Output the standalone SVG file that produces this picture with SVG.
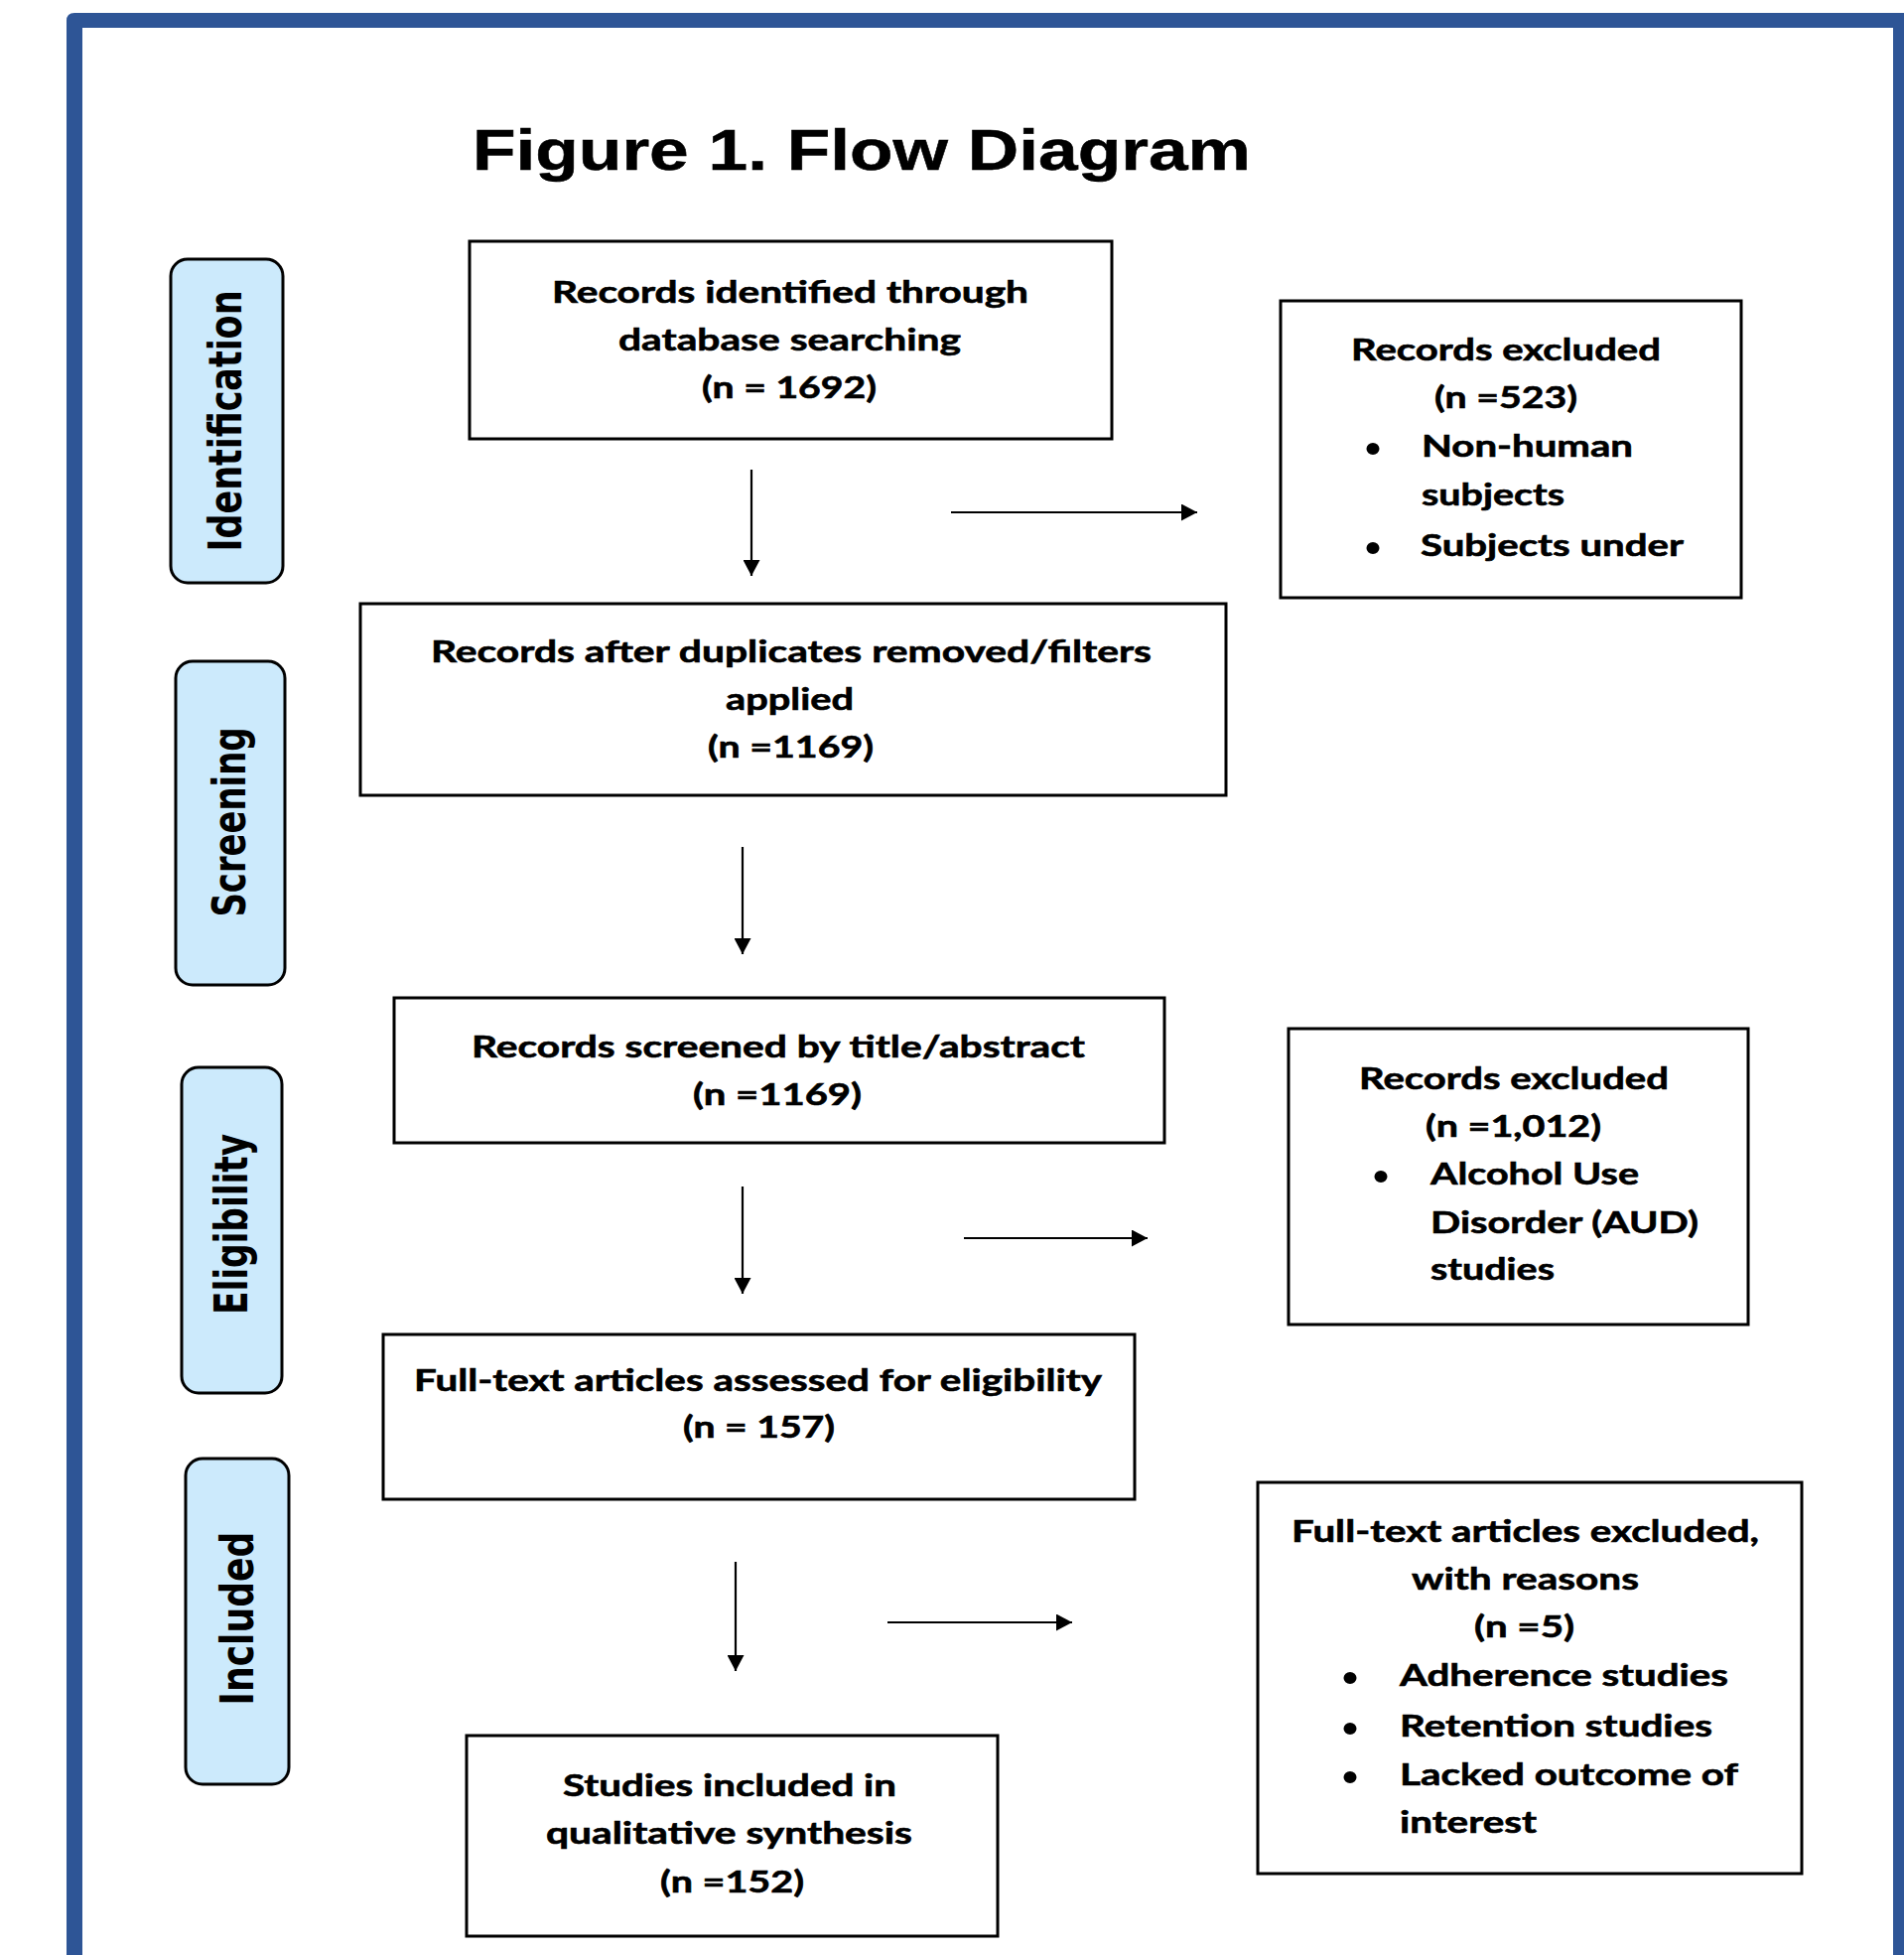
<svg xmlns="http://www.w3.org/2000/svg" width="1918" height="1969" viewBox="0 0 1918 1969">
<style>
.box{fill:#fff;stroke:#000;stroke-width:3}
.lane{fill:#CCEAFC;stroke:#000;stroke-width:3}
.t{font-family:Lato,"Open Sans","Liberation Sans",sans-serif;font-weight:700;font-size:31px;fill:#000;stroke:#000;stroke-width:0.6}
.c{text-anchor:middle}
.ln{font-family:"DejaVu Sans",Verdana,sans-serif;font-weight:700;font-size:35px;fill:#000;text-anchor:middle}
.title{font-family:"Liberation Sans",Arial,sans-serif;font-weight:700;font-size:57px;fill:#000;stroke:#000;stroke-width:0.5}
.conn{stroke:#000;stroke-width:2.2;fill:none;marker-end:url(#ah)}
.dot{fill:#000}
</style>
<defs>
<marker id="ah" markerUnits="userSpaceOnUse" markerWidth="17" markerHeight="17" refX="16" refY="8.5" orient="auto"><path d="M0,0 L16,8.5 L0,17 Z" fill="#000"/></marker>
</defs>
<rect x="0" y="0" width="1918" height="1969" fill="#fff"/>
<path d="M67,21 Q67,13 75,13 H1918 V1969 H67 Z M83,28 V1969 H1907 V28 Z" fill="#2E5596" fill-rule="evenodd"/>
<text class="title" x="476" y="171" textLength="784" lengthAdjust="spacingAndGlyphs">Figure 1. Flow Diagram</text>

<g id="lane-identification">
<rect class="lane" x="172" y="261" width="113" height="326" rx="17"/>
<text class="ln" transform="translate(243,424) rotate(-90) scale(1,1.33)" textLength="263" lengthAdjust="spacingAndGlyphs">Identification</text>
</g>
<g id="lane-screening">
<rect class="lane" x="177" y="666" width="110" height="326" rx="17"/>
<text class="ln" transform="translate(247,828) rotate(-90) scale(1,1.33)" textLength="191" lengthAdjust="spacingAndGlyphs">Screening</text>
</g>
<g id="lane-eligibility">
<rect class="lane" x="183" y="1075" width="101" height="328" rx="17"/>
<text class="ln" transform="translate(249,1233) rotate(-90) scale(1,1.33)" textLength="182" lengthAdjust="spacingAndGlyphs">Eligibility</text>
</g>
<g id="lane-included">
<rect class="lane" x="187" y="1469" width="104" height="328" rx="17"/>
<text class="ln" transform="translate(255,1630) rotate(-90) scale(1,1.33)" textLength="175" lengthAdjust="spacingAndGlyphs">Included</text>
</g>

<g id="connectors">
<line class="conn" x1="757" y1="473" x2="757" y2="580"/>
<line class="conn" x1="958" y1="516" x2="1206" y2="516"/>
<line class="conn" x1="748" y1="853" x2="748" y2="961"/>
<line class="conn" x1="748" y1="1195" x2="748" y2="1303"/>
<line class="conn" x1="971" y1="1247" x2="1156" y2="1247"/>
<line class="conn" x1="741" y1="1573" x2="741" y2="1683"/>
<line class="conn" x1="894" y1="1634" x2="1080" y2="1634"/>
</g>

<g id="identified">
<rect class="box" x="473" y="243" width="647" height="199"/>
<text class="t c" x="796" y="305" textLength="480" lengthAdjust="spacingAndGlyphs">Records identified through</text>
<text class="t c" x="795.5" y="353" textLength="345" lengthAdjust="spacingAndGlyphs">database searching</text>
<text class="t c" x="795" y="401" textLength="176" lengthAdjust="spacingAndGlyphs">(n = 1692)</text>
</g>

<g id="excluded-1">
<rect class="box" x="1290" y="303" width="464" height="299"/>
<text class="t" x="1361" y="363" textLength="312" lengthAdjust="spacingAndGlyphs">Records excluded</text>
<text class="t" x="1445" y="411" textLength="144" lengthAdjust="spacingAndGlyphs">(n =523)</text>
<ellipse class="dot" cx="1383" cy="452" rx="6.5" ry="6"/>
<text class="t" x="1432" y="460" textLength="213" lengthAdjust="spacingAndGlyphs">Non-human</text>
<text class="t" x="1432" y="509" textLength="144" lengthAdjust="spacingAndGlyphs">subjects</text>
<ellipse class="dot" cx="1383" cy="552" rx="6.5" ry="6"/>
<text class="t" x="1431" y="560" textLength="265" lengthAdjust="spacingAndGlyphs">Subjects under</text>
</g>

<g id="deduplicated">
<rect class="box" x="363" y="608" width="872" height="193"/>
<text class="t c" x="797" y="667" textLength="726" lengthAdjust="spacingAndGlyphs">Records after duplicates removed/filters</text>
<text class="t c" x="795.5" y="715" textLength="129" lengthAdjust="spacingAndGlyphs">applied</text>
<text class="t c" x="796.5" y="763" textLength="167" lengthAdjust="spacingAndGlyphs">(n =1169)</text>
</g>

<g id="screened">
<rect class="box" x="397" y="1005" width="776" height="146"/>
<text class="t c" x="784" y="1065" textLength="618" lengthAdjust="spacingAndGlyphs">Records screened by title/abstract</text>
<text class="t c" x="783" y="1113" textLength="170" lengthAdjust="spacingAndGlyphs">(n =1169)</text>
</g>

<g id="excluded-2">
<rect class="box" x="1298" y="1036" width="463" height="298"/>
<text class="t" x="1369" y="1097" textLength="312" lengthAdjust="spacingAndGlyphs">Records excluded</text>
<text class="t" x="1436" y="1145" textLength="177" lengthAdjust="spacingAndGlyphs">(n =1,012)</text>
<ellipse class="dot" cx="1391" cy="1185" rx="6.5" ry="6"/>
<text class="t" x="1441" y="1193" textLength="210" lengthAdjust="spacingAndGlyphs">Alcohol Use</text>
<text class="t" x="1441" y="1242" textLength="270" lengthAdjust="spacingAndGlyphs">Disorder (AUD)</text>
<text class="t" x="1441" y="1289" textLength="125" lengthAdjust="spacingAndGlyphs">studies</text>
</g>

<g id="fulltext">
<rect class="box" x="386" y="1344" width="757" height="166"/>
<text class="t c" x="763.5" y="1401" textLength="693" lengthAdjust="spacingAndGlyphs">Full-text articles assessed for eligibility</text>
<text class="t c" x="764.5" y="1448" textLength="153" lengthAdjust="spacingAndGlyphs">(n = 157)</text>
</g>

<g id="excluded-3">
<rect class="box" x="1267" y="1493" width="548" height="394"/>
<text class="t" x="1301" y="1553" textLength="471" lengthAdjust="spacingAndGlyphs">Full-text articles excluded,</text>
<text class="t" x="1422" y="1601" textLength="229" lengthAdjust="spacingAndGlyphs">with reasons</text>
<text class="t" x="1485" y="1649" textLength="101" lengthAdjust="spacingAndGlyphs">(n =5)</text>
<ellipse class="dot" cx="1360" cy="1690" rx="6.5" ry="6"/>
<text class="t" x="1410" y="1698" textLength="331" lengthAdjust="spacingAndGlyphs">Adherence studies</text>
<ellipse class="dot" cx="1360" cy="1741" rx="6.5" ry="6"/>
<text class="t" x="1410" y="1749" textLength="315" lengthAdjust="spacingAndGlyphs">Retention studies</text>
<ellipse class="dot" cx="1360" cy="1790" rx="6.5" ry="6"/>
<text class="t" x="1410" y="1798" textLength="341" lengthAdjust="spacingAndGlyphs">Lacked outcome of</text>
<text class="t" x="1410" y="1846" textLength="138" lengthAdjust="spacingAndGlyphs">interest</text>
</g>

<g id="included">
<rect class="box" x="470" y="1748" width="535" height="202"/>
<text class="t c" x="735" y="1809" textLength="336" lengthAdjust="spacingAndGlyphs">Studies included in</text>
<text class="t c" x="734.5" y="1857" textLength="369" lengthAdjust="spacingAndGlyphs">qualitative synthesis</text>
<text class="t c" x="737.5" y="1906" textLength="145" lengthAdjust="spacingAndGlyphs">(n =152)</text>
</g>
</svg>
